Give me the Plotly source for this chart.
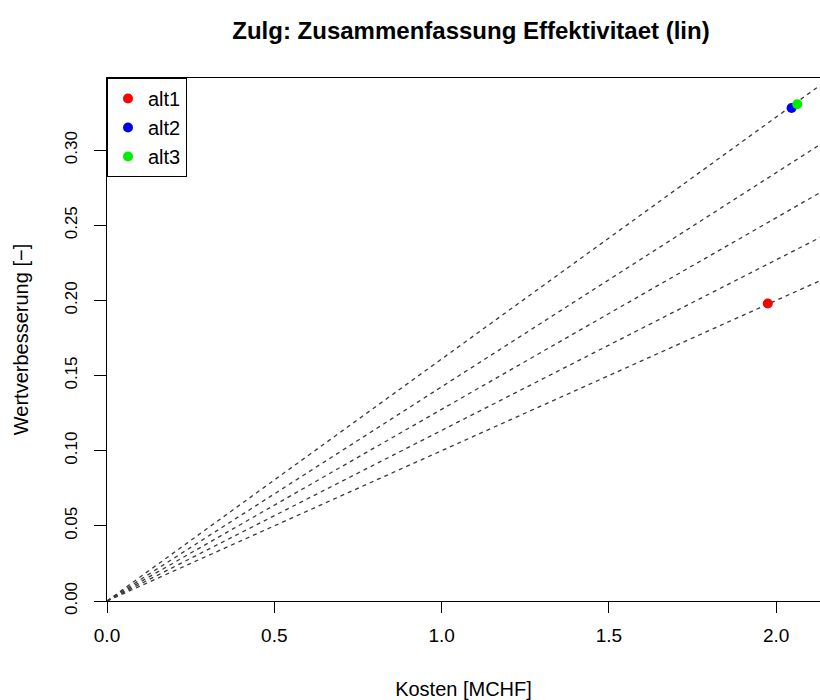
import plotly.graph_objects as go

# Data
alternatives = ["alt1", "alt2", "alt3"]
kosten = [1.975, 2.046, 2.063]          # Kosten [MCHF]
wertverbesserung = [0.198, 0.328, 0.3305]  # Wertverbesserung [-]
colors = ["#ff0000", "#0000ff", "#00ee00"]

# iso-effectiveness reference lines (value per cost)
ref_slopes = [0.100, 0.1135, 0.1275, 0.1425, 0.161]
ref_x_end = 2.3

x_ticks = [0.0, 0.5, 1.0, 1.5, 2.0]
x_ticklabels = ["0.0", "0.5", "1.0", "1.5", "2.0"]
y_ticks = [0.00, 0.05, 0.10, 0.15, 0.20, 0.25, 0.30]
y_ticklabels = ["0.00", "0.05", "0.10", "0.15", "0.20", "0.25", "0.30"]

FONT = "Liberation Sans, Arial, sans-serif"

fig = go.Figure()

for s in ref_slopes:
    fig.add_trace(go.Scatter(
        x=[0, ref_x_end], y=[0, s * ref_x_end], mode="lines",
        line=dict(color="#3a3a3a", width=1.3, dash="4px,4px"),
        showlegend=False, hoverinfo="skip"))

for name, xv, yv, c in zip(alternatives, kosten, wertverbesserung, colors):
    fig.add_trace(go.Scatter(
        x=[xv], y=[yv], mode="markers", name=name,
        marker=dict(color=c, size=10, line=dict(width=0))))

fig.update_layout(
    width=820, height=700,
    margin=dict(l=107, r=0, t=78, b=99),
    paper_bgcolor="white", plot_bgcolor="white",
    font=dict(family=FONT, color="black", size=18),
    title=dict(text="<b>Zulg: Zusammenfassung Effektivitaet (lin)</b>",
               font=dict(size=24, family=FONT, color="black"),
               x=0.5105, xref="paper", xanchor="center",
               y=1 - 31 / 700, yref="container", yanchor="middle"),
    showlegend=True,
    legend=dict(x=0, y=1, xanchor="left", yanchor="top",
                bordercolor="black", borderwidth=1, bgcolor="white",
                font=dict(size=20, family=FONT), itemwidth=30,
                tracegroupgap=0),
)

fig.update_xaxes(
    range=[0, 2.131], tickvals=x_ticks, ticktext=x_ticklabels,
    showgrid=False, zeroline=False, showline=True, linecolor="black", linewidth=1,
    mirror=True, ticks="outside", ticklen=11, tickcolor="black",
    tickfont=dict(size=19, family=FONT), ticklabelstandoff=6,
    title=dict(text="Kosten [MCHF]", font=dict(size=20, family=FONT), standoff=38))

fig.update_yaxes(
    range=[0, 0.348], tickvals=y_ticks, ticktext=y_ticklabels,
    showgrid=False, zeroline=False, showline=True, linecolor="black", linewidth=1,
    ticks="outside", ticklen=12, tickcolor="black", tickangle=-90,
    tickfont=dict(size=17, family=FONT), ticklabelstandoff=10,
    title=dict(text="Wertverbesserung [\u2212]", font=dict(size=20, family=FONT), standoff=28))

fig.write_html("out.html")
